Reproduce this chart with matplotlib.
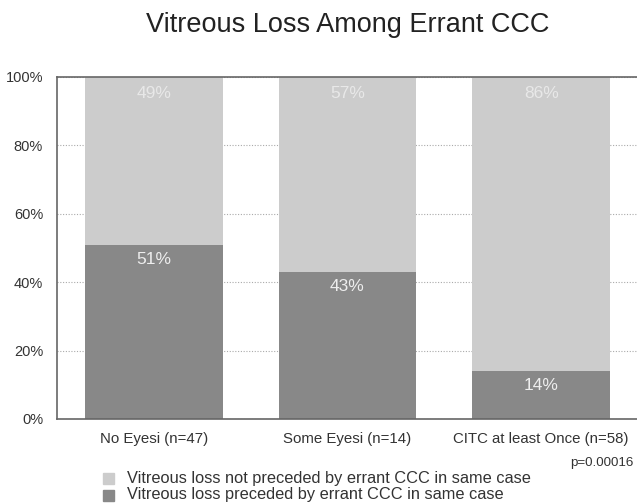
import matplotlib
matplotlib.use("Agg")
import matplotlib.pyplot as plt
from matplotlib.patches import Rectangle

plt.rcParams['font.family'] = ['Liberation Sans', 'DejaVu Sans']

categories = ["No Eyesi (n=47)", "Some Eyesi (n=14)", "CITC at least Once (n=58)"]
preceded = [51, 43, 14]
not_preceded = [49, 57, 86]
yticks = [0, 20, 40, 60, 80, 100]
ytick_labels = ["0%", "20%", "40%", "60%", "80%", "100%"]
legend_labels = ["Vitreous loss not preceded by errant CCC in same case",
                 "Vitreous loss preceded by errant CCC in same case"]

light = "#cccccc"
dark = "#888888"

fig = plt.figure(figsize=(6.37, 5.03), dpi=100)
ax = fig.add_axes([57/637, 1-419/503, 581/637, 342/503])

x = list(range(len(categories)))
w = 0.71
ax.bar(x, preceded, width=w, color=dark, zorder=2)
ax.bar(x, not_preceded, width=w, bottom=preceded, color=light, zorder=2)

for xi, p, n in zip(x, preceded, not_preceded):
    ax.text(xi, 100 - 4.7, f"{n}%", ha="center", va="center", color="#e8e8e8", fontsize=12.5, zorder=3)
    ax.text(xi, p - 4.3, f"{p}%", ha="center", va="center", color="#eeeeee", fontsize=12.5, zorder=3)

ax.set_xlim(-0.5, 2.5)
ax.set_ylim(0, 100)
ax.set_yticks(yticks)
ax.set_yticklabels(ytick_labels, fontsize=10.5, color="#333333")
ax.set_xticks(x)
ax.set_xticklabels(categories, fontsize=10.8, color="#333333")
ax.tick_params(axis="y", length=0, pad=10)
ax.tick_params(axis="x", length=0, pad=9)
ax.yaxis.grid(True, linestyle=(0, (1, 1.5)), color="#aaaaaa", linewidth=0.8, zorder=1)
for s in ["left", "top", "bottom"]:
    ax.spines[s].set_color("#666666")
    ax.spines[s].set_linewidth(1.2)
ax.spines["right"].set_visible(False)

fig.text(348/637, 1-32/503, "Vitreous Loss Among Errant CCC", ha="center", va="baseline",
         fontsize=19.5, color="#222222")
fig.text(634/637, 1-463/503, "p=0.00016", ha="right", va="center", fontsize=9.6, color="#333333")

for i, (lab, col) in enumerate(zip(legend_labels, [light, dark])):
    yc = 1 - (478 + 17*i)/503
    fig.patches.append(Rectangle((103/637, yc - 5.5/503), 11/637, 11/503, transform=fig.transFigure,
                                 color=col, figure=fig))
    fig.text(127/637, yc, lab, ha="left", va="center", fontsize=11.8, color="#333333")

fig.savefig("out.png", dpi=100)
